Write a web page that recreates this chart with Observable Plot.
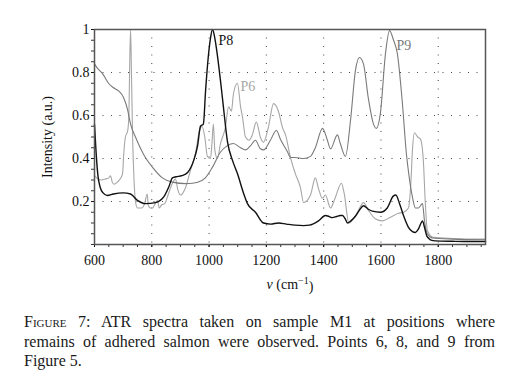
<!DOCTYPE html>
<html><head><meta charset="utf-8">
<script src="https://cdn.jsdelivr.net/npm/d3@7"></script>
<script src="https://cdn.jsdelivr.net/npm/@observablehq/plot@0.6"></script>
<style>
body{margin:0;background:#fff;font-family:"Liberation Serif",serif;}
#chart{width:528px;height:300px;position:absolute;left:0;top:0}
.cap{position:absolute;left:24px;width:471px;font-size:16px;line-height:19.5px;color:#1a1a1a;top:312px}
.cap div{text-align:justify;text-align-last:justify;white-space:nowrap}
.cap div.last{text-align-last:left}
</style></head><body>
<div id="chart"></div>
<div class="cap">
<div><span style="font-variant:small-caps">Figure</span> 7: ATR spectra taken on sample M1 at positions where</div>
<div>remains of adhered salmon were observed. Points 6, 8, and 9 from</div>
<div class="last">Figure 5.</div>
</div>
<script>
// ---- data ----
const p8Wn  = [600,605,612,620,630,645,666,700,726,750,778,813,841,860,872,885,905,925,946,960,970,980,988,997,1005,1012,1020,1029,1040,1050,1064,1082,1099,1120,1134,1162,1190,1215,1242,1270,1300,1330,1350,1382,1406,1420,1430,1445,1458,1466,1475,1483,1495,1510,1525,1539,1555,1570,1598,1622,1643,1652,1665,1680,1696,1710,1720,1730,1740,1745,1752,1760,1766,1775,1790,1850,1900,1965];
const p8Int = [0.56,0.44,0.32,0.265,0.24,0.228,0.235,0.24,0.235,0.205,0.19,0.195,0.22,0.27,0.31,0.315,0.32,0.335,0.39,0.46,0.55,0.56,0.72,0.87,0.96,1.0,0.96,0.88,0.76,0.64,0.48,0.39,0.33,0.24,0.19,0.15,0.10,0.095,0.10,0.095,0.09,0.088,0.09,0.11,0.135,0.13,0.125,0.13,0.135,0.135,0.12,0.10,0.11,0.13,0.16,0.18,0.165,0.155,0.15,0.17,0.225,0.23,0.19,0.13,0.08,0.06,0.056,0.07,0.10,0.11,0.08,0.04,0.03,0.02,0.017,0.015,0.014,0.014];

const p9Wn  = [600,610,628,649,665,684,701,715,726,743,771,802,837,872,918,942,960,987,1012,1040,1064,1085,1110,1127,1145,1162,1179,1190,1214,1235,1249,1274,1284,1300,1330,1354,1371,1396,1413,1424,1448,1458,1476,1494,1511,1525,1539,1556,1574,1584,1598,1616,1630,1644,1657,1675,1689,1699,1710,1720,1731,1745,1752,1762,1780,1850,1965];
const p9Int = [0.84,0.82,0.795,0.75,0.73,0.715,0.685,0.63,0.56,0.50,0.42,0.36,0.31,0.29,0.283,0.285,0.29,0.31,0.36,0.43,0.46,0.47,0.45,0.44,0.46,0.485,0.445,0.44,0.485,0.53,0.49,0.43,0.405,0.405,0.40,0.41,0.45,0.54,0.485,0.445,0.51,0.47,0.41,0.58,0.81,0.87,0.84,0.68,0.56,0.54,0.61,0.89,0.995,0.95,0.89,0.655,0.42,0.31,0.22,0.17,0.17,0.19,0.11,0.05,0.03,0.025,0.022];

const p6Wn  = [600,612,625,638,650,656,662,668,680,692,698,702,708,716,720,723,726,729,733,738,743,750,765,775,784,788,795,802,812,820,826,835,845,858,872,883,890,900,918,935,952,965,975,985,994,1005,1010,1015,1020,1029,1040,1057,1068,1078,1085,1099,1110,1117,1127,1140,1151,1165,1179,1190,1207,1225,1242,1256,1267,1284,1301,1319,1330,1354,1371,1382,1396,1406,1424,1441,1462,1472,1488,1518,1539,1556,1580,1605,1633,1661,1679,1696,1705,1710,1717,1728,1738,1748,1755,1762,1783,1850,1965];
const p6Int = [0.32,0.305,0.30,0.305,0.31,0.32,0.29,0.28,0.29,0.31,0.33,0.42,0.50,0.53,0.60,0.85,1.0,0.80,0.50,0.30,0.20,0.17,0.17,0.19,0.235,0.18,0.17,0.17,0.19,0.205,0.17,0.185,0.19,0.235,0.285,0.305,0.26,0.23,0.265,0.345,0.42,0.52,0.55,0.50,0.41,0.40,0.47,0.56,0.44,0.40,0.47,0.545,0.64,0.62,0.70,0.75,0.64,0.59,0.50,0.485,0.51,0.57,0.50,0.475,0.545,0.655,0.62,0.545,0.51,0.405,0.33,0.265,0.195,0.23,0.31,0.26,0.215,0.23,0.17,0.22,0.285,0.235,0.10,0.15,0.195,0.16,0.12,0.11,0.127,0.145,0.15,0.17,0.30,0.44,0.52,0.50,0.49,0.39,0.19,0.065,0.033,0.028,0.025];

const xTicks = [600,800,1000,1200,1400,1600,1800];
const xGrid = [800,1000,1200,1400,1600,1800];
const yTicks = [0.2,0.4,0.6,0.8,1];
const yTickLabels = ["0.2","0.4","0.6","0.8","1"];
const yGrid = [0.2,0.4,0.6,0.8];
const seriesNames = ["P8","P6","P9"];
const labelWn = [1033,1110,1654];
const labelInt = [0.95,0.735,0.925];
const seriesColors = ["#111111","#a6a6a6","#7a7a7a"];

// ---- build tables ----
const toRows = (w, v) => w.map((x, i) => ({wn: x, v: v[i]}));
const p8 = toRows(p8Wn, p8Int), p6 = toRows(p6Wn, p6Int), p9 = toRows(p9Wn, p9Int);
const labels = seriesNames.map((n, i) => ({n, x: labelWn[i], y: labelInt[i], c: seriesColors[i]}));
const xMinor = d3.range(600, 1951, 50);
const yMinor = d3.range(0, 1.0001, 0.05).map(d => +d.toFixed(2));
const FONT = "Liberation Serif";

const chart = Plot.plot({
  width: 528, height: 300,
  marginLeft: 94, marginRight: 43, marginTop: 29, marginBottom: 56,
  style: {fontFamily: FONT, fontSize: "14px", background: "white", color: "#111"},
  x: {domain: [600, 1965]},
  y: {domain: [0, 1]},
  marks: [
    Plot.ruleX(xGrid, {stroke: "#444", strokeWidth: 1, strokeDasharray: "1,7.5"}),
    Plot.ruleY(yGrid, {stroke: "#444", strokeWidth: 1, strokeDasharray: "1,7.5"}),
    Plot.axisX({ticks: xMinor, tickSize: 3, tickFormat: () => "", label: null, stroke: "#333"}),
    Plot.axisX({ticks: xTicks, tickSize: 3, tickPadding: 8, tickFormat: d => String(d), label: null, fontSize: 14, fontFamily: FONT, fill: "#111"}),
    Plot.axisY({ticks: yMinor, tickSize: 3, tickFormat: () => "", label: null, stroke: "#333"}),
    Plot.axisY({ticks: yTicks, tickSize: 3, tickPadding: 2, tickFormat: d => yTickLabels[yTicks.indexOf(d)], label: null, fontSize: 14, fontFamily: FONT, fill: "#111"}),
    Plot.line(p6, {x: "wn", y: "v", stroke: seriesColors[1], strokeWidth: 1.1, curve: "monotone-x"}),
    Plot.line(p9, {x: "wn", y: "v", stroke: seriesColors[2], strokeWidth: 1.1, curve: "monotone-x"}),
    Plot.line(p8, {x: "wn", y: "v", stroke: seriesColors[0], strokeWidth: 1.4, curve: "monotone-x"}),
    Plot.text(labels, {x: "x", y: "y", text: "n", fill: "c", textAnchor: "start", fontSize: 14, fontFamily: FONT}),
    Plot.text(["Intensity (a.u.)"], {frameAnchor: "left", rotate: -90, dx: -47, textAnchor: "middle", lineAnchor: "middle", fontSize: 14, fontFamily: FONT, fill: "#111"}),
    Plot.text(["ν (cm-1)"], {frameAnchor: "bottom", dy: 40, textAnchor: "middle", lineAnchor: "middle", fontSize: 14, fontFamily: FONT, fill: "#111"}),
    Plot.frame({stroke: "#555", strokeWidth: 1.5})
  ]
});
document.getElementById("chart").appendChild(chart);

// italic nu and superscript exponent for the x-axis label
d3.select(chart).selectAll("text").each(function() {
  if (this.textContent === "ν (cm-1)") {
    const t = d3.select(this);
    t.text(null);
    t.append("tspan").attr("font-style", "italic").text("ν");
    t.append("tspan").text(" (cm");
    t.append("tspan").attr("dy", "-0.45em").attr("font-size", "10px").text("−1");
    t.append("tspan").attr("dy", "0.45em").text(")");
  }
});
</script>
</body></html>
